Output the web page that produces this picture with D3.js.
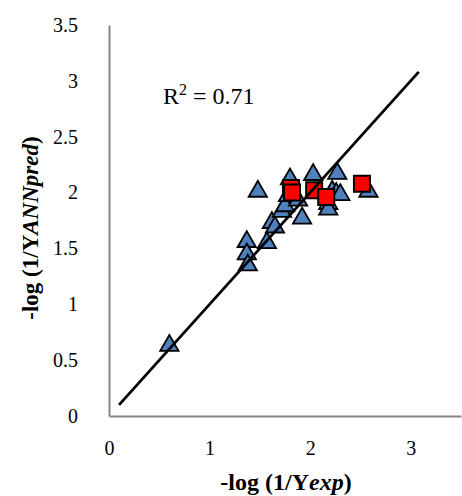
<!DOCTYPE html>
<html>
<head>
<meta charset="utf-8">
<script src="https://d3js.org/d3.v7.min.js"></script>
<style>
  body { margin:0; background:#fff; }
  svg text { font-family: "Liberation Serif", "Times New Roman", serif; fill:#000; }
</style>
</head>
<body>
<div id="chart"></div>
<script>
// =====================================================================
// data
var annX = [0.60, 1.37, 1.37, 1.38, 1.57, 1.62, 1.65, 1.72, 1.75, 1.78, 1.80, 1.48,
            1.88, 1.92, 2.03, 2.27, 2.22, 2.26, 2.30, 2.18, 2.18, 2.58];
var annY = [0.63, 1.56, 1.45, 1.35, 1.55, 1.73, 1.69, 1.83, 1.88, 1.97, 2.12, 2.01,
            1.93, 1.77, 2.16, 2.17, 2.01, 1.99, 1.98, 1.90, 1.85, 2.01];
var testX = [1.81, 1.82, 2.04, 2.16, 2.515];
var testY = [2.04, 2.00, 2.02, 1.96, 2.08];
var fitLine = [[0.1, 0.1], [3.08, 3.08]];
var xTicks = [0, 1, 2, 3];
var yTicks = [0, 0.5, 1, 1.5, 2, 2.5, 3, 3.5];
var r2Text = "0.71";
// =====================================================================
var size = { width:462, height:496 };
var margin = { left:109, right:1, top:25, bottom:80 };
var serif = '"Liberation Serif", "Times New Roman", serif';

var svg = d3.select("#chart").append("svg")
    .attr("width", size.width)
    .attr("height", size.height)
    .attr("font-family", serif);

var x = d3.scaleLinear().domain([0, 3.5]).range([margin.left, size.width - margin.right]);
var y = d3.scaleLinear().domain([0, 3.5]).range([size.height - margin.bottom, margin.top]);

// axes, no tick marks
var xAxis = svg.append("g")
    .attr("transform", "translate(0," + y(0) + ")")
    .call(d3.axisBottom(x).tickValues(xTicks).tickSize(0).tickPadding(25).tickFormat(d3.format("")));
var yAxis = svg.append("g")
    .attr("transform", "translate(" + x(0) + ",0)")
    .call(d3.axisLeft(y).tickValues(yTicks).tickSize(0).tickPadding(31).tickFormat(d3.format("")));
[xAxis, yAxis].forEach(function(a){
    a.attr("font-family", serif).attr("font-size", 20);
    a.select(".domain").attr("stroke", "#868686").attr("stroke-width", 2);
    a.selectAll("text").attr("fill", "#000");
});

// points
var tri = d3.symbol().type(d3.symbolTriangle).size(145);
svg.append("g").selectAll("path")
    .data(annX.map(function(d, i){ return [d, annY[i]]; }))
    .enter().append("path")
    .attr("d", tri)
    .attr("transform", function(d){ return "translate(" + x(d[0]) + "," + y(d[1]) + ")"; })
    .attr("fill", "#4F81BD").attr("stroke", "#000").attr("stroke-width", 1.8);

var sq = d3.symbol().type(d3.symbolSquare).size(256);
svg.append("g").selectAll("path")
    .data(testX.map(function(d, i){ return [d, testY[i]]; }))
    .enter().append("path")
    .attr("d", sq)
    .attr("transform", function(d){ return "translate(" + x(d[0]) + "," + y(d[1]) + ")"; })
    .attr("fill", "#FF0000").attr("stroke", "#000").attr("stroke-width", 2);

// trend line
svg.append("path")
    .datum(fitLine)
    .attr("d", d3.line().x(function(d){ return x(d[0]); }).y(function(d){ return y(d[1]); }))
    .attr("stroke", "#000").attr("stroke-width", 2.8).attr("fill", "none");

// R2 label
var r2 = svg.append("text").attr("x", 163).attr("y", 104).style("font-size", "24px");
r2.append("tspan").text("R");
r2.append("tspan").attr("dy", -9).style("font-size", "16px").text("2");
r2.append("tspan").attr("dy", 9).text(" = " + r2Text);

// axis titles
var xt = svg.append("text").attr("x", 286).attr("y", 490)
    .attr("text-anchor", "middle").style("font-size", "24px").style("font-weight", "bold");
xt.append("tspan").text("-log (1/Y");
xt.append("tspan").style("font-style", "italic").text("exp");
xt.append("tspan").text(")");

var yt = svg.append("text")
    .attr("transform", "translate(38,228) rotate(-90)")
    .attr("text-anchor", "middle").style("font-size", "23px").style("font-weight", "bold");
yt.append("tspan").text("-log (1/Y");
yt.append("tspan").style("font-style", "italic").text("ANNpred");
yt.append("tspan").text(")");
</script>
</body>
</html>
